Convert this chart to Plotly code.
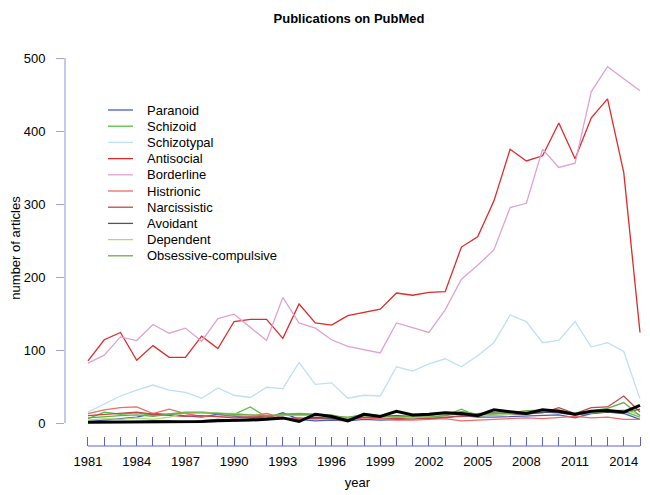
import plotly.graph_objects as go

years = list(range(1981, 2016))

paranoid = [2,4,7,8,13,11,10,8,12,9,8,7,14,5,3,4,3,5,4,5,5,6,7,10,8,8,9,10,11,11,7,13,15,13,5]
schizoid = [6,15,12,14,10,13,15,15,14,12,22,8,12,13,12,11,6,13,10,8,9,8,10,19,9,12,14,15,18,17,12,15,17,16,8]
schizotypal = [15,26,37,45,52,45,42,34,48,38,35,49,47,83,53,55,34,38,37,77,71,81,88,77,92,110,148,139,110,113,139,104,110,98,33]
antisocial = [85,114,124,86,106,90,90,119,102,139,142,142,116,163,137,134,147,151,156,178,175,179,180,241,255,304,375,359,366,411,362,418,444,343,124]
borderline = [82,93,118,113,135,123,130,112,143,149,131,113,172,137,130,114,105,100,96,137,130,124,155,197,216,237,295,301,375,350,356,454,488,472,455]
histrionic = [13,18,21,22,13,19,13,9,9,10,9,13,7,5,6,5,4,7,5,4,4,5,6,3,4,5,6,7,6,8,9,7,8,5,5]
narcissistic = [10,12,14,15,12,10,9,10,8,7,8,9,6,7,6,7,5,8,7,6,7,6,8,9,10,11,12,13,14,21,13,21,22,37,15]
avoidant = [1,1,2,2,3,3,1,3,5,4,6,5,6,4,8,6,4,10,9,10,9,10,11,12,12,14,13,12,15,14,11,14,15,14,19]
dependent = [4,6,5,7,5,8,14,15,13,13,11,10,11,10,11,9,7,10,9,8,7,9,12,14,10,11,12,16,17,16,12,14,16,18,11]
obsessive = [7,9,10,11,9,12,14,14,13,12,12,10,11,12,11,10,8,11,9,8,9,8,10,16,12,13,14,17,18,18,13,17,20,28,10]
other = [1,1,1,1,2,2,1,2,3,3,4,5,7,2,12,9,3,12,9,16,11,12,14,13,10,18,15,13,18,16,12,16,17,15,24]

names = ["Paranoid", "Schizoid", "Schizotypal", "Antisocial", "Borderline",
         "Histrionic", "Narcissistic", "Avoidant", "Dependent", "Obsessive-compulsive"]
series = [paranoid, schizoid, schizotypal, antisocial, borderline,
          histrionic, narcissistic, avoidant, dependent, obsessive]
colors = ["#4b5bb8", "#5cbf3f", "#bfe0ee", "#dd2a2a", "#e0a2d2",
          "#ef6b6b", "#c04848", "#555555", "#a6dd74", "#6aaa48"]

y_ticks = [0, 100, 200, 300, 400, 500]
x_ticks = years
x_ticktext = [str(y) if (y - 1981) % 3 == 0 else "" for y in years]

FONT = "Liberation Sans, Arial, sans-serif"
OFF = 8  # page body margin
W, H = 650 - OFF, 495 - OFF
ML = 65 - OFF
MT = 50 - OFF
MB = 495 - 446
MR = 0
PW, PH = W - ML - MR, H - MT - MB

fig = go.Figure()
for name, vals, col in zip(names, series, colors):
    fig.add_trace(go.Scatter(x=years, y=vals, mode="lines", name=name,
                             line=dict(color=col, width=1.3), showlegend=False))
fig.add_trace(go.Scatter(x=years, y=other, mode="lines", name="All",
                         line=dict(color="#000000", width=3), showlegend=False))

# manual legend (R style, tight spacing); coordinates given in screen pixels
def px2paper(px, py):
    return (px - OFF - ML) / PW, (H - MB - (py - OFF)) / PH

for i, (name, col) in enumerate(zip(names, colors)):
    py = 110 + 16.2 * i
    x0, y0 = px2paper(108, py)
    x1, _ = px2paper(133, py)
    xt, _ = px2paper(145, py)
    fig.add_shape(type="line", xref="paper", yref="paper", x0=x0, x1=x1, y0=y0, y1=y0,
                  line=dict(color=col, width=1.3))
    fig.add_annotation(xref="paper", yref="paper", x=xt, y=y0, text=name, showarrow=False,
                       xanchor="left", yanchor="middle", font=dict(size=13, color="#000000", family=FONT))

axis_y_col = "#9fa6d9"
axis_x_col = "#5c66c2"
fig.add_shape(type="line", xref="paper", yref="y", x0=0, x1=0, y0=y_ticks[0], y1=y_ticks[-1],
              line=dict(color=axis_y_col, width=1.2))
fig.add_shape(type="line", xref="x", yref="paper", x0=years[0], x1=years[-1], y0=0, y1=0,
              line=dict(color=axis_x_col, width=1.2))

x_left = 1981 - 23 / 16.24
x_right = 2015 + 10 / 16.24
y_bottom = (423 - 446) / 0.73
y_top = (423 - 50) / 0.73
fig.update_layout(
    width=W, height=H,
    margin=dict(l=ML, r=MR, t=MT, b=MB),
    plot_bgcolor="white", paper_bgcolor="white",
    font=dict(family=FONT, size=13, color="#000000"),
    title=dict(text="<b>Publications on PubMed</b>", x=(349 - OFF - ML) / PW, xref="paper",
               xanchor="center", y=1 - (18 - OFF) / H, yref="container", yanchor="middle",
               font=dict(size=13, family=FONT, color="#000000")),
    xaxis=dict(range=[x_left, x_right], tickvals=x_ticks, ticktext=x_ticktext,
               ticks="inside", ticklen=9, tickcolor=axis_x_col, tickwidth=1.2,
               showgrid=False, zeroline=False, showline=False,
               ticklabelstandoff=6,
               tickfont=dict(size=13, family=FONT),
               title=dict(text="year", standoff=9, font=dict(size=13, family=FONT))),
    yaxis=dict(range=[y_bottom, y_top], tickvals=y_ticks,
               ticks="outside", ticklen=8, tickcolor=axis_y_col, tickwidth=1.2,
               showgrid=False, zeroline=False, showline=False,
               ticklabelstandoff=8,
               tickfont=dict(size=13, family=FONT),
               title=dict(text="number of articles", standoff=6, font=dict(size=13, family=FONT))),
)

fig.write_html("out.html")
